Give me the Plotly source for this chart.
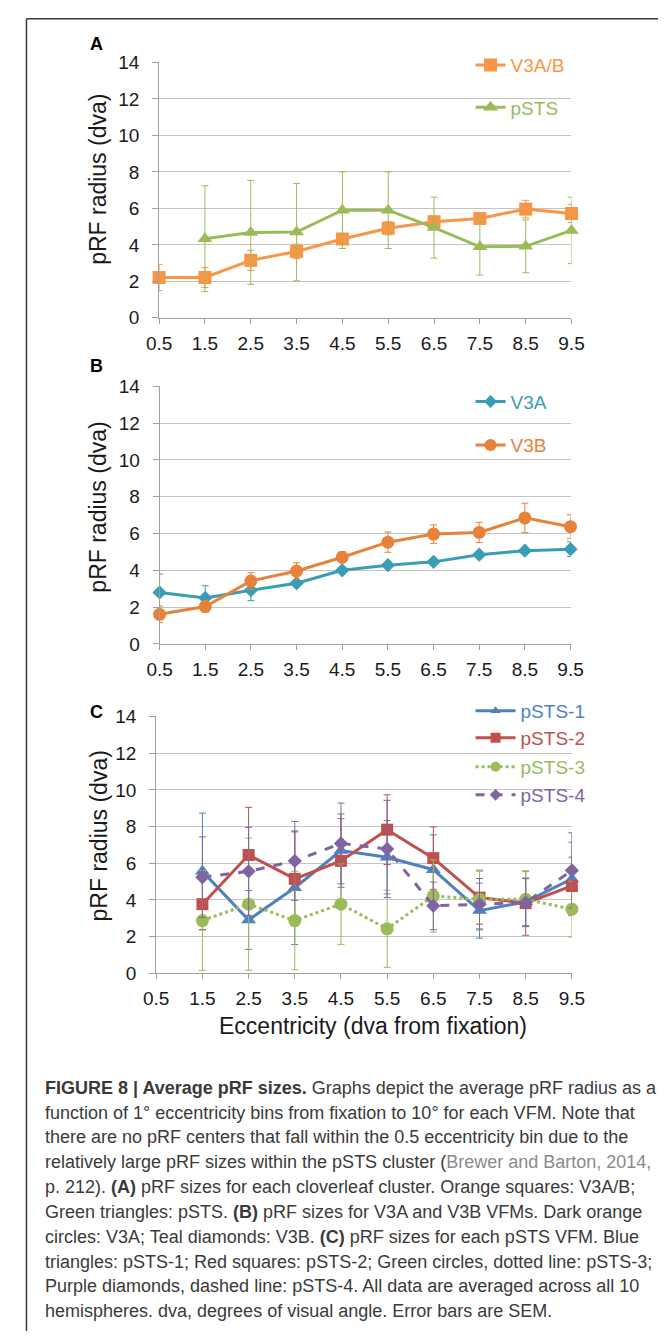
import plotly.graph_objects as go

W, H = 671, 1342

# ---------------- data ----------------
ecc = [0.5, 1.5, 2.5, 3.5, 4.5, 5.5, 6.5, 7.5, 8.5, 9.5]
ecc_labels = ["0.5", "1.5", "2.5", "3.5", "4.5", "5.5", "6.5", "7.5", "8.5", "9.5"]
ecc_c = [1.5, 2.5, 3.5, 4.5, 5.5, 6.5, 7.5, 8.5, 9.5]

# Panel A
v3ab = [2.21, 2.21, 3.15, 3.64, 4.32, 4.91, 5.27, 5.45, 5.96, 5.72]
v3ab_err = [0.72, 0.55, 0.55, 0.40, 0.30, 0.36, 0.30, 0.30, 0.48, 0.50]
psts_x = ecc_c
psts = [4.34, 4.68, 4.70, 5.90, 5.90, 4.95, 3.89, 3.92, 4.79]
psts_err = [2.90, 2.85, 2.67, 2.10, 2.10, 1.67, 1.55, 1.45, 1.82]

# Panel B
v3a = [2.80, 2.50, 2.92, 3.30, 4.00, 4.28, 4.46, 4.85, 5.07, 5.15]
v3a_err = [1.00, 0.66, 0.57, 0.20, 0.10, 0.10, 0.15, 0.15, 0.15, 0.40]
v3b = [1.61, 2.03, 3.42, 3.96, 4.71, 5.53, 5.97, 6.06, 6.85, 6.37]
v3b_err = [0.45, 0.30, 0.45, 0.45, 0.30, 0.55, 0.50, 0.55, 0.80, 0.65]

# Panel C
psts1 = [5.56, 2.91, 4.67, 6.69, 6.33, 5.65, 3.42, 3.90, 5.15]
psts1_err = [3.17, 1.60, 3.10, 2.00, 2.00, 1.90, 1.50, 1.30, 2.00]
psts2 = [3.77, 6.45, 5.15, 6.13, 7.83, 6.28, 4.13, 3.83, 4.76]
psts2_err = [1.40, 2.60, 2.56, 2.30, 1.90, 1.70, 1.45, 1.75, 1.57]
psts3 = [2.88, 3.77, 2.88, 3.77, 2.43, 4.22, 4.04, 4.04, 3.50]
psts3_err = [2.72, 3.60, 2.68, 2.20, 2.10, 1.97, 1.60, 1.50, 1.52]
psts4 = [5.24, 5.56, 6.13, 7.08, 6.78, 3.68, 3.77, 3.86, 5.61]
psts4_err = [2.20, 2.40, 2.15, 2.20, 2.65, 1.30, 1.40, 1.30, 2.05]

y_ticks = [0, 2, 4, 6, 8, 10, 12, 14]

# ---------------- styles ----------------
C_V3AB = "#F79646"
C_PSTS = "#9BBB59"
C_V3A = "#3A9DB6"
C_V3B = "#E6823A"
C_P1 = "#4F81BD"
C_P2 = "#C0504D"
C_P3 = "#9BBB59"
C_P4 = "#8064A2"
GRID = "#C4C4C4"
AXIS = "#A0A0A0"
FONT = "Liberation Sans, Arial, Helvetica, sans-serif"
TXT = "#1a1a1a"


def px_x(x):
    return x / W


def px_y(y):
    return 1 - y / H


fig = go.Figure()

# panel geometry in pixels (left, right, top, bottom)
panels = {
    "A": dict(l=152, r=581, t=53.3, b=312.7, xa="x", ya="y"),
    "B": dict(l=152.5, r=580, t=382.3, b=644, xa="x2", ya="y2"),
    "C": dict(l=149, r=581.4, t=717.7, b=978.7, xa="x3", ya="y3"),
}


def add_series(panel, x, y, err, color, name, symbol, size, dash, legend_id, leg_y,
               leg_size=None, leg_x=476, itemwidth=30):
    p = panels[panel]
    fig.add_trace(go.Scatter(
        x=x, y=y, name=name, mode="lines+markers",
        xaxis=p["xa"], yaxis=p["ya"],
        line=dict(color=color, width=3, dash=dash),
        marker=dict(color=color, symbol=symbol, size=size),
        error_y=dict(type="data", array=err, color=color, thickness=1, width=3.5),
        cliponaxis=False, showlegend=False,
    ))
    # legend entry (drawn from an empty trace so its marker can be sized like the original key)
    fig.add_trace(go.Scatter(
        x=[None], y=[None], name=name, mode="lines+markers",
        xaxis=p["xa"], yaxis=p["ya"],
        line=dict(color=color, width=3, dash=dash),
        marker=dict(color=color, symbol=symbol, size=leg_size or size),
        showlegend=True, legend=legend_id,
    ))
    fig.layout[legend_id] = dict(
        x=px_x(leg_x), y=px_y(leg_y), xanchor="left", yanchor="middle",
        bgcolor="rgba(0,0,0,0)", font=dict(family=FONT, size=19, color=color),
        itemwidth=itemwidth,
    )


add_series("A", ecc, v3ab, v3ab_err, C_V3AB, "V3A/B", "square", 13, "solid", "legend", 56)
add_series("A", psts_x, psts, psts_err, C_PSTS, "pSTS", "triangle-up", 13, "solid", "legend2", 99)
add_series("B", ecc, v3a, v3a_err, C_V3A, "V3A", "diamond", 11, "solid", "legend3", 398, leg_size=10)
add_series("B", ecc, v3b, v3b_err, C_V3B, "V3B", "circle", 13, "solid", "legend4", 442, leg_size=12)
add_series("C", ecc_c, psts1, psts1_err, C_P1, "pSTS-1", "triangle-up", 13, "solid", "legend5", 712,
           leg_size=9, itemwidth=40)
add_series("C", ecc_c, psts2, psts2_err, C_P2, "pSTS-2", "square", 12, "solid", "legend6", 739.5,
           leg_size=10, itemwidth=40)
add_series("C", ecc_c, psts3, psts3_err, C_P3, "pSTS-3", "circle", 13, "dot", "legend7", 769,
           leg_size=10, itemwidth=40)
add_series("C", ecc_c, psts4, psts4_err, C_P4, "pSTS-4", "diamond", 11, "dash", "legend8", 797.5,
           leg_size=9, itemwidth=40)

for key, p in panels.items():
    xname = "xaxis" if p["xa"] == "x" else "xaxis" + p["xa"][1:]
    yname = "yaxis" if p["ya"] == "y" else "yaxis" + p["ya"][1:]
    fig.layout[xname] = dict(
        domain=[px_x(p["l"]), px_x(p["r"])], anchor=p["ya"],
        range=[0.5, 9.5], tickvals=ecc, ticktext=ecc_labels,
        showgrid=False, zeroline=False, showline=True, linecolor=AXIS, linewidth=1,
        ticks="outside", ticklen=5, tickcolor=AXIS,
        tickfont=dict(family=FONT, size=19, color=TXT), ticklabelstandoff=3,
    )
    fig.layout[yname] = dict(
        domain=[px_y(p["b"]), px_y(p["t"])], anchor=p["xa"],
        range=[0, 14], tickvals=y_ticks,
        showgrid=True, gridcolor=GRID, gridwidth=1, zeroline=False,
        showline=True, linecolor=AXIS, linewidth=1,
        ticks="outside", ticklen=6, tickcolor=AXIS,
        tickfont=dict(family=FONT, size=19, color=TXT), ticklabelstandoff=9,
    )

shapes = []
# white boxes that cut the gridlines behind the legends
for (x0, y0, x1, y1) in [(467, 38, 600, 115), (476, 368, 600, 474), (468, 703, 600, 810)]:
    shapes.append(dict(type="rect", xref="paper", yref="paper", layer="between",
                       x0=px_x(x0), x1=px_x(x1), y0=px_y(y1), y1=px_y(y0),
                       fillcolor="white", line=dict(width=0)))
# figure frame
shapes.append(dict(type="line", xref="paper", yref="paper", x0=px_x(14), x1=1,
                   y0=px_y(9), y1=px_y(9), line=dict(color="#3a3a3a", width=1.5)))
shapes.append(dict(type="line", xref="paper", yref="paper", x0=px_x(14), x1=px_x(14),
                   y0=px_y(9), y1=0, line=dict(color="#3a3a3a", width=1.5)))

ann = []
for letter, (lx, ly) in {"A": (87, 35), "B": (87, 362), "C": (87, 713)}.items():
    ann.append(dict(text=f"<b>{letter}</b>", x=px_x(lx), y=px_y(ly), xref="paper", yref="paper",
                    showarrow=False, xanchor="center", yanchor="middle",
                    font=dict(family=FONT, size=18, color="#000")))
for ty in [172, 505, 839]:
    ann.append(dict(text="pRF radius (dva)", x=px_x(89), y=px_y(ty), xref="paper", yref="paper",
                    showarrow=False, textangle=-90, xanchor="center", yanchor="middle",
                    font=dict(family=FONT, size=23, color=TXT)))
ann.append(dict(text="Eccentricity (dva from fixation)", x=px_x(374), y=px_y(1032),
                xref="paper", yref="paper", showarrow=False, xanchor="center", yanchor="middle",
                font=dict(family=FONT, size=23, color=TXT)))

caption = [
    "<b>FIGURE 8 | Average pRF sizes.</b> Graphs depict the average pRF radius as a",
    "function of 1° eccentricity bins from fixation to 10° for each VFM. Note that",
    "there are no pRF centers that fall within the 0.5 eccentricity bin due to the",
    "relatively large pRF sizes within the pSTS cluster (<span style='color:#8a8a8a'>Brewer and Barton, 2014,</span>",
    "p. 212). <b>(A)</b> pRF sizes for each cloverleaf cluster. Orange squares: V3A/B;",
    "Green triangles: pSTS. <b>(B)</b> pRF sizes for V3A and V3B VFMs. Dark orange",
    "circles: V3A; Teal diamonds: V3B. <b>(C)</b> pRF sizes for each pSTS VFM. Blue",
    "triangles: pSTS-1; Red squares: pSTS-2; Green circles, dotted line: pSTS-3;",
    "Purple diamonds, dashed line: pSTS-4. All data are averaged across all 10",
    "hemispheres. dva, degrees of visual angle. Error bars are SEM.",
]
for i, line in enumerate(caption):
    ann.append(dict(text=line, x=px_x(31), y=px_y(1095 + 25.2 * i), xref="paper", yref="paper",
                    showarrow=False, xanchor="left", yanchor="middle",
                    font=dict(family=FONT, size=18, color="#3a3a3a")))

fig.update_layout(
    width=W, height=H, margin=dict(l=0, r=0, t=0, b=0),
    paper_bgcolor="white", plot_bgcolor="white",
    shapes=shapes, annotations=ann,
)

fig.write_html("out.html")
